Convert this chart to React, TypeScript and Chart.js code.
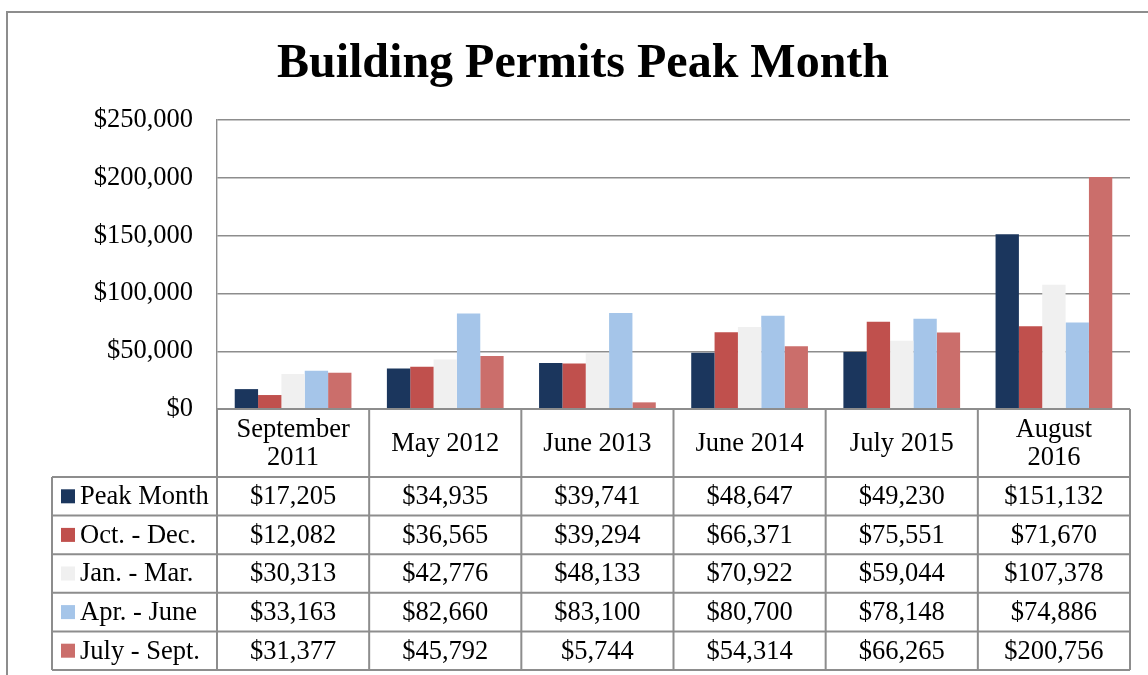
import React, { useEffect, useRef } from 'react';
import { Chart, registerables } from 'chart.js';

Chart.register(...registerables);

const categories: string[][] = [['September', '2011'], ['May 2012'], ['June 2013'], ['June 2014'], ['July 2015'], ['August', '2016']];
const seriesNames = ['Peak Month', 'Oct. - Dec.', 'Jan. - Mar.', 'Apr. - June', 'July - Sept.'];
const peakMonth = [17205, 34935, 39741, 48647, 49230, 151132];
const octDec = [12082, 36565, 39294, 66371, 75551, 71670];
const janMar = [30313, 42776, 48133, 70922, 59044, 107378];
const aprJune = [33163, 82660, 83100, 80700, 78148, 74886];
const julySept = [31377, 45792, 5744, 54314, 66265, 200756];
const seriesColors = ['#1B365D', '#C0504D', '#F0F0F0', '#A5C5E9', '#CB6E6B'];
const yMin = 0;
const yMax = 250000;
const yStep = 50000;
const title = 'Building Permits Peak Month';

const allSeries = [peakMonth, octDec, janMar, aprJune, julySept];
const FONT = '"Liberation Serif", "Times New Roman", serif';
const LINE = '#8d8d8d';
const FS = 26.5;

const fmt = (v: number) => '$' + v.toLocaleString('en-US');

const tablePlugin = {
  id: 'tablePlugin',
  afterDraw(chart: any) {
    const { ctx, chartArea } = chart;
    const x = chart.scales.x;
    const n = categories.length;
    const catW = (chartArea.right - chartArea.left) / n;
    const top = chartArea.bottom;
    const headerH = 68;
    const rowH = 38.6;
    const legendLeft = 52;
    const tableBottom = top + headerH + rowH * allSeries.length;

    ctx.save();
    // outer frame
    ctx.strokeStyle = LINE;
    ctx.lineWidth = 2;
    ctx.strokeRect(7, 12, 1180, 720);

    // title
    ctx.fillStyle = '#000';
    ctx.font = 'bold 48px ' + FONT;
    ctx.textAlign = 'center';
    ctx.textBaseline = 'alphabetic';
    ctx.fillText(title, 583, 77);

    // table lines
    ctx.strokeStyle = LINE;
    ctx.lineWidth = 2;
    ctx.beginPath();
    for (let i = 0; i <= n; i++) {
      const xb = i < n ? x.getPixelForValue(i) - catW / 2 : x.getPixelForValue(n - 1) + catW / 2;
      ctx.moveTo(xb, top);
      ctx.lineTo(xb, tableBottom);
    }
    ctx.moveTo(legendLeft, top + headerH);
    ctx.lineTo(legendLeft, tableBottom);
    ctx.moveTo(chartArea.left, top);
    ctx.lineTo(chartArea.right, top);
    for (let j = 0; j <= allSeries.length; j++) {
      const yy = top + headerH + j * rowH;
      ctx.moveTo(legendLeft, yy);
      ctx.lineTo(chartArea.right, yy);
    }
    ctx.stroke();

    // header text
    ctx.fillStyle = '#000';
    ctx.font = FS + 'px ' + FONT;
    ctx.textAlign = 'center';
    ctx.textBaseline = 'middle';
    categories.forEach((lines, i) => {
      const cx = x.getPixelForValue(i);
      const cy = top + headerH / 2 + 1;
      const lh = 28;
      lines.forEach((ln, k) => {
        ctx.fillText(ln, cx, cy + (k - (lines.length - 1) / 2) * lh);
      });
    });

    // rows
    allSeries.forEach((vals, j) => {
      const cy = top + headerH + j * rowH + rowH / 2 + 1;
      ctx.fillStyle = seriesColors[j];
      ctx.fillRect(61, cy - 8, 14, 14);
      ctx.fillStyle = '#000';
      ctx.textAlign = 'left';
      ctx.fillText(seriesNames[j], 80, cy);
      ctx.textAlign = 'center';
      vals.forEach((v, i) => {
        ctx.fillText(fmt(v), x.getPixelForValue(i), cy);
      });
    });
    ctx.restore();
  },
};

export default function App() {
  const ref = useRef<HTMLCanvasElement>(null);
  useEffect(() => {
    if (!ref.current) return;
    const chart = new Chart(ref.current, {
      type: 'bar',
      data: {
        labels: categories.map((c) => c.join(' ')),
        datasets: allSeries.map((vals, j) => ({
          label: seriesNames[j],
          data: vals,
          backgroundColor: seriesColors[j],
          borderWidth: 0,
          categoryPercentage: 0.767,
          barPercentage: 1,
        })),
      },
      options: {
        responsive: false,
        animation: false,
        devicePixelRatio: 1,
        layout: { padding: { left: 0, right: 18, top: 120, bottom: 266 } },
        plugins: { legend: { display: false }, tooltip: { enabled: false }, title: { display: false } },
        scales: {
          x: { display: false },
          y: {
            min: yMin,
            max: yMax,
            afterFit: (s: any) => { s.width = 217; },
            ticks: {
              stepSize: yStep,
              padding: 24,
              color: '#000',
              font: { family: FONT, size: FS },
              callback: (v: any) => fmt(Number(v)),
            },
            grid: { color: LINE, lineWidth: 1.4, drawTicks: false },
            border: { display: true, color: LINE, width: 1.4 },
          },
        },
      },
      plugins: [tablePlugin],
    });
    return () => chart.destroy();
  }, []);
  return (
    <div style={{ position: 'fixed', left: 0, top: 0, width: 1148, height: 675, background: '#fff' }}>
      <canvas ref={ref} width={1148} height={675} />
    </div>
  );
}
